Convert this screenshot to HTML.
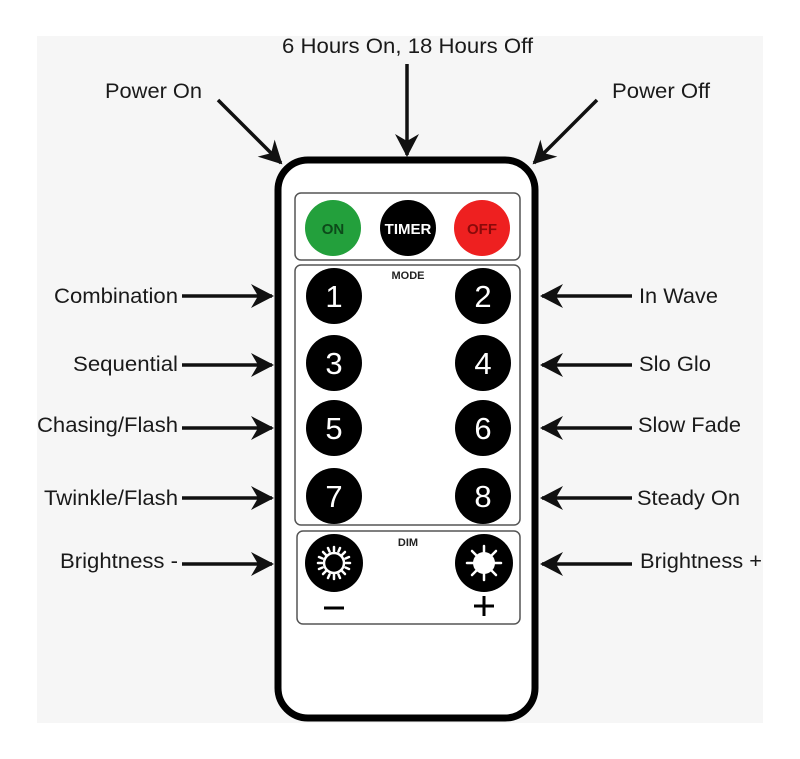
<!DOCTYPE html>
<html><head><meta charset="utf-8"><style>
html,body{margin:0;padding:0;background:#fff}
svg{display:block}
text{font-family:"Liberation Sans",Arial,sans-serif}
</style></head><body>
<svg width="800" height="759" viewBox="0 0 800 759" xmlns="http://www.w3.org/2000/svg">
<defs>
<marker id="a" viewBox="0 0 24 26" refX="22" refY="13" markerWidth="24" markerHeight="26" markerUnits="userSpaceOnUse" orient="auto">
<path d="M24 13 L1 1 L8 13 L1 25 Z" fill="#111"/>
</marker>
</defs>
<rect x="37" y="36" width="726" height="687" fill="#f6f6f6"/>
<g font-size="21" fill="#1a1a1a" lengthAdjust="spacingAndGlyphs">
<text x="282" y="53" textLength="251" lengthAdjust="spacingAndGlyphs">6 Hours On, 18 Hours Off</text>
<text x="105" y="98" textLength="97" lengthAdjust="spacingAndGlyphs">Power On</text>
<text x="612" y="98" textLength="98" lengthAdjust="spacingAndGlyphs">Power Off</text>
<text x="54" y="303" textLength="124" lengthAdjust="spacingAndGlyphs">Combination</text>
<text x="73" y="371" textLength="105" lengthAdjust="spacingAndGlyphs">Sequential</text>
<text x="37" y="432" textLength="141" lengthAdjust="spacingAndGlyphs">Chasing/Flash</text>
<text x="44" y="505" textLength="134" lengthAdjust="spacingAndGlyphs">Twinkle/Flash</text>
<text x="60" y="568" textLength="118" lengthAdjust="spacingAndGlyphs">Brightness -</text>
<text x="639" y="303" textLength="79" lengthAdjust="spacingAndGlyphs">In Wave</text>
<text x="639" y="371" textLength="72" lengthAdjust="spacingAndGlyphs">Slo Glo</text>
<text x="638" y="432" textLength="103" lengthAdjust="spacingAndGlyphs">Slow Fade</text>
<text x="637" y="505" textLength="103" lengthAdjust="spacingAndGlyphs">Steady On</text>
<text x="640" y="568" textLength="122" lengthAdjust="spacingAndGlyphs">Brightness +</text>
</g>
<g stroke="#111" stroke-width="3.5" fill="none" marker-end="url(#a)">
<line x1="407" y1="64" x2="407" y2="155"/>
<line x1="218" y1="100" x2="281" y2="163"/>
<line x1="597" y1="100" x2="534" y2="163"/>
<line x1="182" y1="296" x2="272" y2="296"/>
<line x1="182" y1="365" x2="272" y2="365"/>
<line x1="182" y1="428" x2="272" y2="428"/>
<line x1="182" y1="498" x2="272" y2="498"/>
<line x1="182" y1="564" x2="272" y2="564"/>
<line x1="632" y1="296" x2="542" y2="296"/>
<line x1="632" y1="365" x2="542" y2="365"/>
<line x1="632" y1="428" x2="542" y2="428"/>
<line x1="632" y1="498" x2="542" y2="498"/>
<line x1="632" y1="564" x2="542" y2="564"/>
</g>
<rect x="278" y="160" width="257" height="558" rx="30" fill="#fff" stroke="#000" stroke-width="7"/>
<g fill="none" stroke="#555" stroke-width="1.5">
<rect x="295" y="193" width="225" height="67" rx="6"/>
<rect x="295" y="265" width="225" height="260" rx="6"/>
<rect x="297" y="531" width="223" height="93" rx="6"/>
</g>
<circle cx="333" cy="228" r="28" fill="#23a03c"/>
<circle cx="408" cy="228" r="28" fill="#000"/>
<circle cx="482" cy="228" r="28" fill="#ee2020"/>
<g font-weight="bold" font-size="15" text-anchor="middle">
<text x="333" y="234" fill="#0d4a1a">ON</text>
<text x="408" y="234" fill="#fff">TIMER</text>
<text x="482" y="234" fill="#8a0a0a">OFF</text>
</g>
<text x="408" y="279" font-size="11" font-weight="bold" text-anchor="middle" fill="#222">MODE</text>
<text x="408" y="546" font-size="11" font-weight="bold" text-anchor="middle" fill="#222">DIM</text>
<g fill="#000">
<circle cx="334" cy="296" r="28"/><circle cx="483" cy="296" r="28"/>
<circle cx="334" cy="363" r="28"/><circle cx="483" cy="363" r="28"/>
<circle cx="334" cy="428" r="28"/><circle cx="483" cy="428" r="28"/>
<circle cx="334" cy="496" r="28"/><circle cx="483" cy="496" r="28"/>
<circle cx="334" cy="563" r="29"/><circle cx="484" cy="563" r="29"/>
</g>
<g fill="#fff" font-size="31" text-anchor="middle">
<text x="334" y="307">1</text><text x="483" y="307">2</text>
<text x="334" y="374">3</text><text x="483" y="374">4</text>
<text x="334" y="439">5</text><text x="483" y="439">6</text>
<text x="334" y="507">7</text><text x="483" y="507">8</text>
</g>
<circle cx="334" cy="563" r="10" fill="none" stroke="#fff" stroke-width="2.5"/>
<circle cx="484" cy="563" r="11" fill="#fff"/>
<g stroke="#fff" stroke-width="2.5" stroke-linecap="round">
<path d="M334 547v4M334 575v4M318 563h4M346 563h4M323 552l3 3M342 571l3 3M345 552l-3 3M326 571l-3 3M328 548l1.5 3.5M340 548l-1.5 3.5M328 578l1.5-3.5M340 578l-1.5-3.5M319 557l3.5 1.5M319 569l3.5-1.5M349 557l-3.5 1.5M349 569l-3.5-1.5"/>
<path d="M484 546v6M484 574v6M467 563h6M495 563h6M472 551l4 4M492 571l4 4M496 551l-4 4M476 571l-4 4"/>
</g>
<path d="M324 608h20" stroke="#000" stroke-width="3"/>
<path d="M474 606h20M484 596v20" stroke="#000" stroke-width="3"/>
</svg>
</body></html>
